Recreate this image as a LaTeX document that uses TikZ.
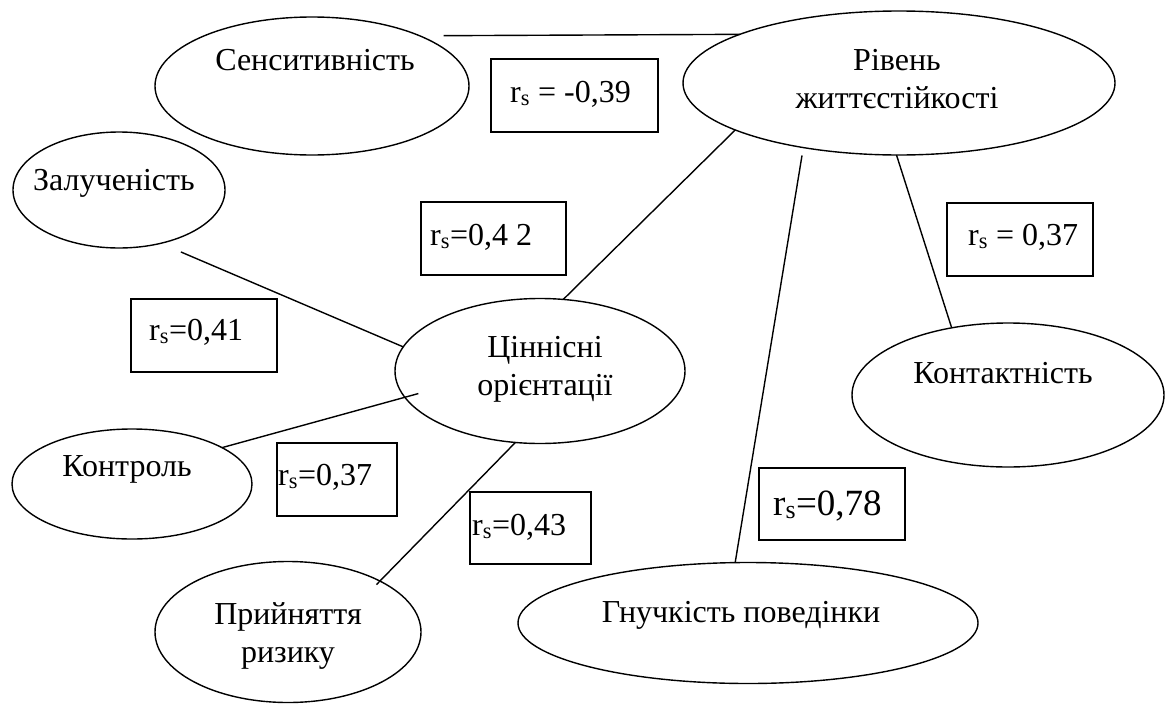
\documentclass[tikz,border=0pt]{standalone}
\usepackage{fontspec}
\setmainfont{Liberation Serif}
\usetikzlibrary{shapes.geometric}
\tikzset{
  ell/.style={draw, ellipse, line width=1.4pt, inner sep=0pt, outer sep=0pt},
  bx/.style={draw, rectangle, line width=1.4pt, inner sep=0pt, outer sep=0pt},
  lbl/.style={font=\fontsize{32}{38}\selectfont, inner sep=0pt, align=center},
  big/.style={font=\fontsize{37}{42}\selectfont, inner sep=0pt},
  conn/.style={line width=1.4pt}
}
\newcommand{\rsub}{r\textsubscript{s}}
\begin{document}
\begin{tikzpicture}[x=1pt, y=-1pt]
\fill[white] (0,0) rectangle (1169,704);
\useasboundingbox (0,0) rectangle (1169,704);

% ellipses
\node[ell, minimum width=314pt, minimum height=138pt] (sen) at (312,86) {};
\node[ell, minimum width=432pt, minimum height=144pt] (riv) at (899,83) {};
\node[ell, minimum width=212pt, minimum height=116pt] (zal) at (119,190) {};
\node[ell, minimum width=290pt, minimum height=145pt] (cin) at (540,371) {};
\node[ell, minimum width=312pt, minimum height=144pt] (kon) at (1008,395) {};
\node[ell, minimum width=240pt, minimum height=110pt] (ktr) at (132,484) {};
\node[ell, minimum width=266pt, minimum height=141pt] (pry) at (288,632) {};
\node[ell, minimum width=460pt, minimum height=121pt] (gnu) at (748,623) {};

% ellipse texts
\node[lbl, anchor=base] (senT) at (315,70) {Сенситивність};
\node[lbl] (rivT) at (897,79) {Рівень\\життєстійкості};
\node[lbl, anchor=base] (zalT) at (114,190) {Залученість};
\node[lbl] (cinT) at (545,369) {Ціннісні\\орієнтації};
\node[lbl, anchor=base] (konT) at (1003,383) {Контактність};
\node[lbl, anchor=base] (ktrT) at (127,476) {Контроль};
\node[lbl] (pryT) at (288,636) {Прийняття\\ризику};
\node[lbl, anchor=base] (gnuT) at (741,622) {Гнучкість поведінки};

% boxes
\node[bx, minimum width=167pt, minimum height=73pt] (b1) at (574.5,95.5) {};
\node[bx, minimum width=145pt, minimum height=73pt] (b2) at (493.5,238.5) {};
\node[bx, minimum width=146pt, minimum height=73pt] (b3) at (1020,239.5) {};
\node[bx, minimum width=146pt, minimum height=73pt] (b4) at (204,335.5) {};
\node[bx, minimum width=120pt, minimum height=73pt] (b5) at (337,479.5) {};
\node[bx, minimum width=121pt, minimum height=72pt] (b6) at (530.5,528) {};
\node[bx, minimum width=146pt, minimum height=72pt] (b7) at (832,504) {};

% box texts
\node[lbl, anchor=base west] (b1T) at (510,102) {\rsub{} = -0,39};
\node[lbl, anchor=base west] (b2T) at (430,245) {\rsub=0,4 2};
\node[lbl, anchor=base west] (b3T) at (968,245) {\rsub{} = 0,37};
\node[lbl, anchor=base west] (b4T) at (149,340) {\rsub=0,41};
\node[lbl, anchor=base west] (b5T) at (278,485) {\rsub=0,37};
\node[lbl, anchor=base west] (b6T) at (472,535) {\rsub=0,43};
\node[big, anchor=base west] (b7T) at (773,515) {\rsub=0,78};

% connectors
\draw[conn, shorten <=24pt] (sen.25.2) -- (riv.163.7);
\draw[conn] (riv.196.3) -- (cin.72.3);
\draw[conn, shorten <=8pt] (riv.214) -- (gnu.102.2);
\draw[conn] (riv.268.4) -- (kon.130.2);
\draw[conn, shorten <=22pt] (zal.-52.4) -- (cin.170.9);
\draw[conn, shorten >=-14pt] (ktr.22.7) -- (cin.191.8);
\draw[conn, shorten >=-5pt] (cin.251.6) -- (pry.29.4);
\end{tikzpicture}
\end{document}
